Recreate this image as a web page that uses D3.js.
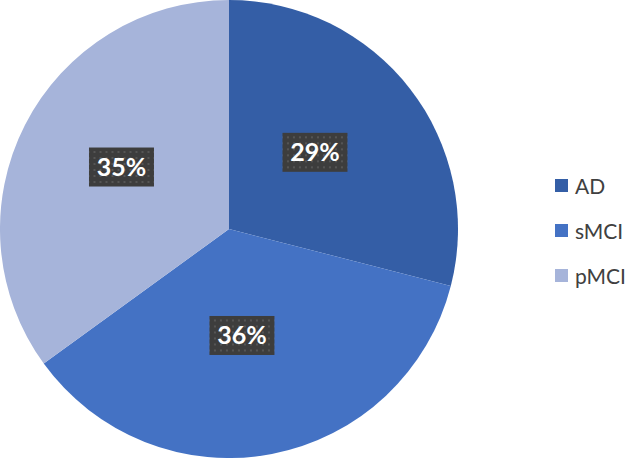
<!DOCTYPE html>
<html>
<head>
<meta charset="utf-8">
<script src="https://cdn.jsdelivr.net/npm/d3@7"></script>
<style>
html,body{margin:0;padding:0;background:#fff;}
svg{display:block;}
</style>
</head>
<body>
<svg id="chart" width="628" height="458"></svg>
<script>
const categories = ["AD", "sMCI", "pMCI"];
const values = [29, 36, 35];
const labels = ["29%", "36%", "35%"];
const colors = ["#345EA6", "#4472C4", "#A6B4DA"];

const svg = d3.select("#chart");
const defs = svg.append("defs");
const pat = defs.append("pattern").attr("id","dots").attr("patternUnits","userSpaceOnUse")
  .attr("width",6).attr("height",6);
pat.append("rect").attr("width",6).attr("height",6).attr("fill","#3d3d3d");
pat.append("rect").attr("x",2).attr("y",2).attr("width",2).attr("height",2).attr("fill","#555555");

const cx = 229, cy = 229, R = 229;
const data = categories.map((c,i)=>({cat:c, value:values[i], label:labels[i], color:colors[i]}));
const pie = d3.pie().value(d=>d.value).sort(null);
const arcs = pie(data);
const arc = d3.arc().innerRadius(0).outerRadius(R);
const labelArc = d3.arc().innerRadius(R*0.5).outerRadius(R*0.5);

const g = svg.append("g").attr("transform",`translate(${cx},${cy})`);
g.selectAll("path").data(arcs).join("path")
  .attr("d",arc).attr("fill",d=>d.data.color);

const offsets = [[-4.5,-6.5],[-8.5,-6],[-5.5,-10]];
const lg = g.selectAll("g.lbl").data(arcs).join("g").attr("class","lbl")
  .attr("transform",(d,i)=>{const c=labelArc.centroid(d);return `translate(${c[0]+offsets[i][0]},${c[1]+offsets[i][1]})`;});
lg.append("rect").attr("x",-32.5).attr("y",-19.5).attr("width",65).attr("height",39).attr("fill","url(#dots)");
lg.append("text").attr("text-anchor","middle").attr("dy","0.35em")
  .attr("fill","#fff").attr("font-family","Lato, 'Open Sans', sans-serif").attr("font-weight","bold")
  .attr("font-size","25px").text(d=>d.data.label);

const leg = svg.append("g");
const ly = d3.scalePoint().domain(categories).range([186,276]);
const items = leg.selectAll("g").data(data).join("g").attr("transform",d=>`translate(555,${ly(d.cat)})`);
items.append("rect").attr("x",0).attr("y",-7).attr("width",13).attr("height",13).attr("fill",d=>d.color);
items.append("text").attr("x",20).attr("dy","0.36em").attr("fill","#404040")
  .attr("font-family","Lato, 'Open Sans', sans-serif").attr("font-size","21px").text(d=>d.cat);
</script>
</body>
</html>
